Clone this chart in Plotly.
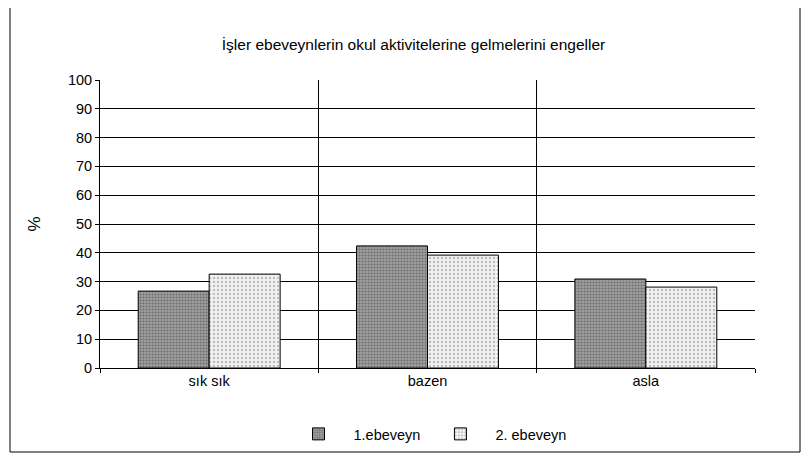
import plotly.graph_objects as go

categories = ["sık sık", "bazen", "asla"]
parent1 = [26.7, 42.4, 30.9]
parent2 = [32.6, 39.2, 28.1]
series_names = ["1.ebeveyn", "2. ebeveyn"]
title = "İşler ebeveynlerin okul aktivitelerine gelmelerini engeller"

fig = go.Figure()
fig.add_trace(go.Bar(
    x=categories, y=parent1, name=series_names[0],
    marker=dict(color="#9a9a9a", line=dict(color="black", width=1),
                pattern=dict(shape=".", fgcolor="#3a3a3a", bgcolor="#a0a0a0", size=3, solidity=0.4)),
))
fig.add_trace(go.Bar(
    x=categories, y=parent2, name=series_names[1],
    marker=dict(color="#e8e8e8", line=dict(color="black", width=1),
                pattern=dict(shape=".", fgcolor="#888888", bgcolor="#f2f2f2", size=4, solidity=0.3)),
))

fig.update_layout(
    width=811, height=462,
    margin=dict(l=92, r=64, t=72, b=102),
    paper_bgcolor="white", plot_bgcolor="white",
    font=dict(family="Liberation Sans, Arial", size=14.5, color="black"),
    title=dict(text=title, x=0.5, xanchor="center", y=0.92, yanchor="middle",
               font=dict(size=15.5)),
    bargap=0.35, bargroupgap=0,
    showlegend=True,
    legend=dict(orientation="h", x=0.5, xanchor="center", y=-0.229, yanchor="middle",
                font=dict(size=14.5), itemwidth=60, traceorder="normal"),
    shapes=[dict(type="rect", xref="paper", yref="paper",
                 x0=-90 / 655, x1=1 + 45 / 655, y0=-84 / 288, y1=1 + 75 / 288,
                 line=dict(color="black", width=1))],
)
fig.update_yaxes(
    title=dict(text="%", standoff=22), range=[0, 100], dtick=10,
    showgrid=True, gridcolor="black", gridwidth=1,
    showline=True, linecolor="black", ticks="outside", ticklen=4, tickcolor="black",
    zeroline=False,
)
fig.update_xaxes(
    tickson="boundaries", showgrid=True, gridcolor="black", gridwidth=1,
    showline=True, linecolor="black", ticks="outside", ticklen=4, tickcolor="black",
)

fig.write_html("out.html")
